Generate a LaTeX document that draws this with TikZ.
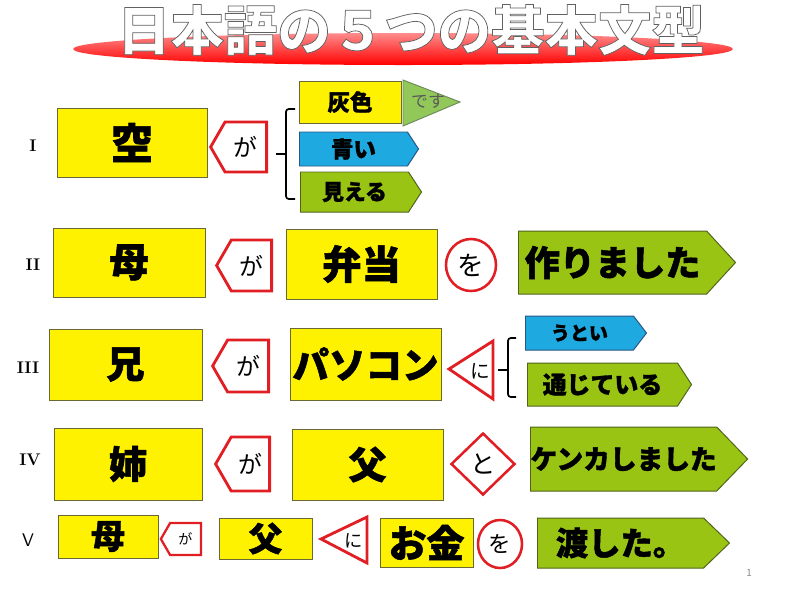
\documentclass[tikz,border=0pt]{standalone}
\usepackage{fontspec}
\usepackage{tikz}
\usetikzlibrary{shapes.symbols,shapes.geometric}
\newfontfamily\jp{Noto Sans CJK JP}[BoldFeatures={FakeBold=1.4}]
\newcommand{\jsz}[1]{\fontsize{#1}{#1}\selectfont}
\newcommand{\pxu}{0.025cm}
\newcommand{\outlined}[1]{\special{pdf:literal direct 2 Tr 2.8 w 0.38 G}#1\special{pdf:literal direct 0 Tr}}
\definecolor{ybord}{RGB}{105,105,55}
\definecolor{gfill}{RGB}{153,196,20}
\definecolor{gbord}{RGB}{80,100,30}
\definecolor{bfill}{RGB}{30,170,225}
\definecolor{bbord}{RGB}{40,85,130}
\definecolor{pfill}{RGB}{146,200,90}
\definecolor{pbord}{RGB}{110,140,90}
\definecolor{redline}{RGB}{225,30,35}

\begin{document}
\begin{tikzpicture}[x=0.025cm, y=-0.025cm,
  ybox/.style={draw=ybord, fill=yellow, line width=0.7pt, inner sep=0pt, font=\jp\bfseries},
  garrow/.style={shape=signal, signal to=east, signal pointer angle=#1, anchor=west, draw=gbord, fill=gfill, line width=0.7pt, inner sep=0pt, font=\jp\bfseries},
  barrow/.style={shape=signal, signal to=east, signal pointer angle=#1, anchor=west, draw=bbord, fill=bfill, line width=0.7pt, inner sep=0pt, font=\jp\bfseries},
  gamark/.style={shape=signal, signal to=west, signal pointer angle=120, anchor=east, draw=redline, fill=white, line width=2pt, inner sep=0pt, font=\jp},
  womark/.style={ellipse, draw=redline, fill=white, line width=1.8pt, inner sep=0pt, font=\jp},
  tomark/.style={diamond, draw=redline, fill=white, line width=1.8pt, inner sep=0pt, font=\jp},
  nitri/.style={draw=redline, fill=white, line width=2pt, line join=miter},
  brace/.style={line width=1.2pt, rounded corners=2pt},
  num/.style={font=\rmfamily\bfseries\jsz{12}},
  title/.style={font=\jp\bfseries\jsz{38}, inner sep=0pt}]

\useasboundingbox (0,0) rectangle (800,600);

% title
\shade[top color=red!45!white, middle color=red, bottom color=red] (403,49) ellipse (330 and 16);
\node[title, text=white] (title) at (411,30) {\outlined{日本語の５つの基本文型}};

% I
\node[num] (n1) at (33,146) {I};
\node[ybox, minimum width=150*\pxu, minimum height=69*\pxu] (sora) at (132,142.5) {\jsz{30}空};
\node[gamark, minimum width=56*\pxu, minimum height=50*\pxu] (ga1) at (268,147) {\jsz{17}が};
\draw[brace] (295,109) -- (286,109) -- (286,199) -- (295,199);
\draw[brace] (276,154) -- (286,154);
\node[ybox, minimum width=102*\pxu, minimum height=42*\pxu] (haiiro) at (350,102) {\jsz{16}灰色};
\draw[fill=pfill, draw=pbord, line width=0.7pt] (403,80) -- (460,102) -- (403,126) -- cycle;
\node[font=\jp\jsz{12}, text=black!65] (desu) at (428,101) {です};
\node[barrow=114, minimum width=119*\pxu, minimum height=34*\pxu] (aoi) at (299,149) {\jsz{16}青い};
\node[garrow=114, minimum width=121*\pxu, minimum height=40*\pxu] (mieru) at (300,192) {\jsz{15.5}見える};

% II
\node[num] (n2) at (33,265) {II};
\node[ybox, minimum width=152*\pxu, minimum height=69*\pxu] (haha) at (129,262.5) {\jsz{28}母};
\node[gamark, minimum width=55*\pxu, minimum height=51*\pxu] (ga2) at (273,265.5) {\jsz{17}が};
\node[ybox, minimum width=151*\pxu, minimum height=70*\pxu] (bento) at (361.5,264) {\jsz{28}弁当};
\node[womark, minimum width=50*\pxu, minimum height=52*\pxu] (wo2) at (471,265) {\jsz{19}を};
\node[garrow=95, minimum width=217*\pxu, minimum height=63*\pxu] (tsukuri) at (518,262.5) {\jsz{25}作りました};

% III
\node[num] (n3) at (28,368) {III};
\node[ybox, minimum width=153*\pxu, minimum height=71*\pxu] (ani) at (125.5,364.5) {\jsz{27}兄};
\node[gamark, minimum width=56*\pxu, minimum height=52*\pxu] (ga3) at (270,366) {\jsz{17}が};
\node[ybox, minimum width=151*\pxu, minimum height=72*\pxu] (pasokon) at (365.5,364) {\jsz{26}パソコン};
\draw[nitri] (449,369) -- (493,341) -- (493,399) -- cycle;
\node[font=\jp\jsz{14}] (ni3) at (480,371) {に};
\draw[brace] (516,338) -- (508,338) -- (508,397) -- (516,397);
\draw[brace] (498,370) -- (508,370);
\node[barrow=105, minimum width=121*\pxu, minimum height=34*\pxu] (utoi) at (525,333) {\jsz{13.5}うとい};
\node[garrow=114, minimum width=164*\pxu, minimum height=43*\pxu] (tsujite) at (527,384.5) {\jsz{17}通じている};

% IV
\node[num] (n4) at (30,460) {IV};
\node[ybox, minimum width=148*\pxu, minimum height=72*\pxu] (ane) at (128,464) {\jsz{27}姉};
\node[gamark, minimum width=54*\pxu, minimum height=54*\pxu] (ga4) at (271,464) {\jsz{17}が};
\node[ybox, minimum width=151*\pxu, minimum height=71*\pxu] (chichi4) at (367.5,464.5) {\jsz{27}父};
\node[tomark, minimum width=64*\pxu, minimum height=62*\pxu] (to4) at (483,464) {\jsz{18}と};
\node[garrow=92, minimum width=214*\pxu, minimum height=64*\pxu] (kenka) at (530,459) {\jsz{19}ケンカしました};

% V
\node[font=\sffamily\jsz{13}] (n5) at (28,540) {V};
\node[ybox, minimum width=100*\pxu, minimum height=43*\pxu] (haha5) at (108,536.5) {\jsz{24}母};
\node[gamark, line width=1.6pt, minimum width=40*\pxu, minimum height=32*\pxu] (ga5) at (202,539) {\jsz{10}が};
\node[ybox, minimum width=93*\pxu, minimum height=41*\pxu] (chichi5) at (265.5,538.5) {\jsz{24}父};
\draw[nitri] (321,539) -- (367,517) -- (367,563) -- cycle;
\node[font=\jp\jsz{13}] (ni5) at (354,541) {に};
\node[ybox, minimum width=93*\pxu, minimum height=49*\pxu] (okane) at (426.5,542.5) {\jsz{27}お金};
\node[womark, minimum width=44*\pxu, minimum height=48*\pxu] (wo5) at (500,544) {\jsz{16}を};
\node[garrow=88, minimum width=192*\pxu, minimum height=50*\pxu] (watashita) at (537,543) {\jsz{23}渡した。};

\node[font=\jp\jsz{7}, text=black!45] (page) at (749,573) {1};
\end{tikzpicture}
\end{document}
